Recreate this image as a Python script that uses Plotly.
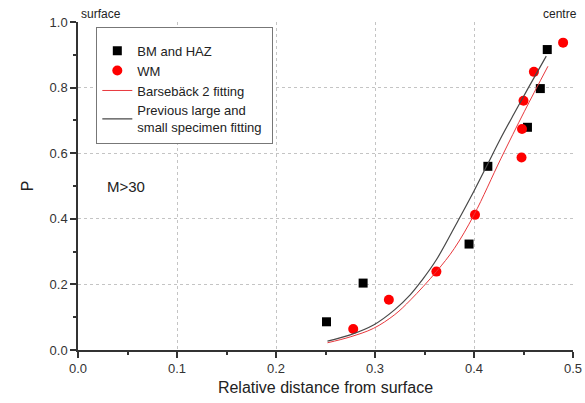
import plotly.graph_objects as go

# ---- data ----
bm_x = [0.251, 0.288, 0.395, 0.414, 0.454, 0.467, 0.474]
bm_y = [0.086, 0.204, 0.323, 0.560, 0.679, 0.797, 0.916]

wm_x = [0.278, 0.314, 0.362, 0.401, 0.448, 0.4485, 0.450, 0.4605, 0.490]
wm_y = [0.064, 0.153, 0.239, 0.412, 0.587, 0.674, 0.760, 0.848, 0.937]

bars_x = [0.252, 0.275, 0.2985, 0.320, 0.336, 0.362, 0.380, 0.400, 0.4274, 0.451, 0.4747]
bars_y = [0.022, 0.040, 0.066, 0.108, 0.153, 0.239, 0.309, 0.412, 0.585, 0.728, 0.865]

prev_x = [0.252, 0.275, 0.2985, 0.320, 0.3355, 0.3473, 0.362, 0.384, 0.400, 0.414, 0.4257, 0.440, 0.455, 0.473]
prev_y = [0.027, 0.046, 0.076, 0.123, 0.168, 0.212, 0.275, 0.395, 0.485, 0.568, 0.638, 0.718, 0.800, 0.896]

x_grid = [0.1, 0.2, 0.3, 0.4]
y_grid = [0.2, 0.4, 0.6, 0.8]
x_ticks = [0.0, 0.1, 0.2, 0.3, 0.4, 0.5]
x_ticklabels = ["0.0", "0.1", "0.2", "0.3", "0.4", "0.5"]
y_ticks = [0.0, 0.2, 0.4, 0.6, 0.8, 1.0]
y_ticklabels = ["0.0", "0.2", "0.4", "0.6", "0.8", "1.0"]

FONT = "Liberation Sans, Arial, sans-serif"
TXT = "#333333"

fig = go.Figure()
fig.add_trace(go.Scatter(x=bm_x, y=bm_y, mode="markers", name="BM and HAZ",
                         marker=dict(symbol="square", size=9, color="black")))
fig.add_trace(go.Scatter(x=wm_x, y=wm_y, mode="markers", name="WM",
                         marker=dict(symbol="circle", size=10, color="#ff0000")))
fig.add_trace(go.Scatter(x=bars_x, y=bars_y, mode="lines", name="Barsebäck 2 fitting",
                         line=dict(color="#e8383d", width=1, shape="spline", smoothing=1)))
fig.add_trace(go.Scatter(x=prev_x, y=prev_y, mode="lines",
                         name="Previous large and<br>small specimen fitting",
                         line=dict(color="#484848", width=1.2, shape="spline", smoothing=1)))
# empty trace to carry the tick axes
fig.add_trace(go.Scatter(x=[], y=[], xaxis="x2", yaxis="y2", showlegend=False,
                         hoverinfo="skip"))

fig.update_layout(
    width=585, height=403,
    margin=dict(l=78, r=12, t=22, b=53),
    paper_bgcolor="white", plot_bgcolor="white",
    font=dict(family=FONT, color=TXT, size=13),
    showlegend=True,
    legend=dict(x=0.037, y=0.985, xanchor="left", yanchor="top",
                bgcolor="white", bordercolor="#777777", borderwidth=1,
                font=dict(family=FONT, size=13, color="#222222"),
                title=dict(text="\u00a0" * 102, font=dict(size=6, color="white")),
                tracegroupgap=0, itemwidth=30),
    xaxis=dict(range=[0, 0.5], tickvals=x_grid, showticklabels=False, ticks="",
               showgrid=True, griddash="dot", gridcolor="#c4c4c4", gridwidth=1,
               zeroline=False, showline=False, automargin=False),
    yaxis=dict(range=[0, 1.0], tickvals=y_grid, showticklabels=False, ticks="",
               showgrid=True, griddash="dot", gridcolor="#c4c4c4", gridwidth=1,
               zeroline=False, showline=False, automargin=False),
    xaxis2=dict(overlaying="x", anchor="y2", side="bottom", range=[0, 0.5],
                tickvals=x_ticks, ticktext=x_ticklabels,
                ticks="outside", ticklen=6, tickwidth=1.5, tickcolor="#333333",
                minor=dict(dtick=0.05, ticks="outside", ticklen=3.5, tickwidth=1.5,
                           tickcolor="#333333", showgrid=False),
                showline=True, linecolor="#333333", linewidth=1.5,
                showgrid=False, zeroline=False, automargin=False,
                tickfont=dict(size=13, color=TXT),
                title=dict(text="Relative distance from surface",
                           font=dict(size=16, color="#222222"), standoff=6)),
    yaxis2=dict(overlaying="y", anchor="x2", side="left", range=[0, 1.0],
                tickvals=y_ticks, ticktext=y_ticklabels,
                ticks="outside", ticklen=6, tickwidth=1.5, tickcolor="#333333",
                minor=dict(dtick=0.1, ticks="outside", ticklen=3.5, tickwidth=1.5,
                           tickcolor="#333333", showgrid=False),
                showline=True, linecolor="#333333", linewidth=1.5,
                showgrid=False, zeroline=False, automargin=False,
                tickfont=dict(size=13, color=TXT),
                title=dict(text="P", font=dict(size=16, color="#222222"), standoff=12)),
)

fig.add_annotation(text="M>30", xref="paper", yref="paper", x=0.054, y=0.50,
                   xanchor="left", yanchor="middle", showarrow=False,
                   font=dict(size=15, color="#222222"))
fig.add_annotation(text="surface", xref="paper", yref="paper", x=0.003, y=1.0,
                   xanchor="left", yanchor="bottom", showarrow=False, yshift=-1,
                   font=dict(size=12, color="#222222"))
fig.add_annotation(text="centre", xref="paper", yref="paper", x=1.012, y=1.0,
                   xanchor="right", yanchor="bottom", showarrow=False, yshift=-1,
                   font=dict(size=12, color="#222222"))

fig.write_html("out.html", config={"displayModeBar": False},
               post_script="document.body.style.margin='0px';")
